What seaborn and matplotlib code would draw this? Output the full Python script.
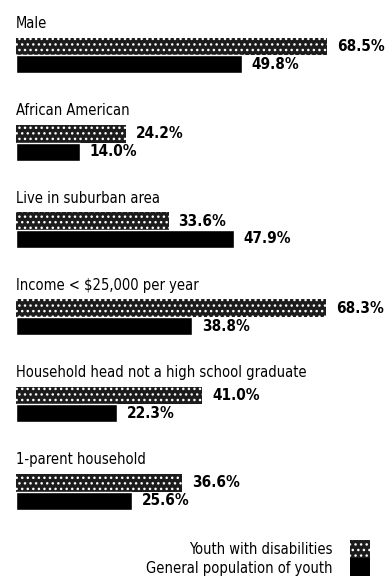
import matplotlib
matplotlib.use("Agg")
import matplotlib.pyplot as plt
import seaborn as sns
import pandas as pd
from matplotlib.patches import Rectangle

categories = ["Male", "African American", "Live in suburban area",
              "Income < $25,000 per year",
              "Household head not a high school graduate",
              "1-parent household"]
series_names = ["Youth with disabilities", "General population of youth"]
disab_values = [68.5, 24.2, 33.6, 68.3, 41.0, 36.6]
general_values = [49.8, 14.0, 47.9, 38.8, 22.3, 25.6]

rows = []
for c, a, b in zip(categories, disab_values, general_values):
    rows.append({"category": c, "group": series_names[0], "value": a})
    rows.append({"category": c, "group": series_names[1], "value": b})
df = pd.DataFrame(rows)

sns.set_theme(style="white")
plt.rcParams['font.family'] = ['DejaVu Sans']
plt.rcParams['font.stretch'] = 'condensed'
plt.rcParams['hatch.linewidth'] = 1.0

fig = plt.figure(figsize=(3.88, 5.86), dpi=100)
ax = fig.add_axes([0, 0, 1, 1])
sns.barplot(data=df, x="value", y="category", hue="group", orient="h",
            order=categories, hue_order=series_names,
            palette=["#1c1c1c", "#000000"], width=0.41, legend=False,
            ax=ax, saturation=1)

for p in ax.containers[0]:
    p.set_hatch("...")
    p.set_edgecolor("white")
    p.set_linewidth(0)

for cont in ax.containers:
    ax.bar_label(cont, fmt="%.1f%%", padding=7, fontsize=11,
                 fontweight="bold", fontstretch="condensed", color="black")

for i, c in enumerate(categories):
    ax.text(0, i - 0.21 - 0.07, c, ha="left", va="bottom", fontsize=10.5,
            fontstretch="condensed", color="black")

ax.set_xlim(-3.52, 81.9)
ax.set_ylim(6.08, -0.635)
ax.axis("off")

# legend
fig.text(333 / 388, 1 - 549 / 586, series_names[0], ha="right", va="center",
         fontsize=10.5, fontstretch="condensed", color="black")
fig.text(333 / 388, 1 - 568 / 586, series_names[1], ha="right", va="center",
         fontsize=10.5, fontstretch="condensed", color="black")
fig.patches.append(Rectangle((350 / 388, 1 - 558 / 586), 20 / 388, 18 / 586,
                             transform=fig.transFigure, facecolor="#1c1c1c",
                             edgecolor="white", hatch="...", linewidth=0))
fig.patches.append(Rectangle((350 / 388, 1 - 576 / 586), 20 / 388, 18 / 586,
                             transform=fig.transFigure, facecolor="black",
                             linewidth=0))

fig.savefig("out.png", dpi=100)
